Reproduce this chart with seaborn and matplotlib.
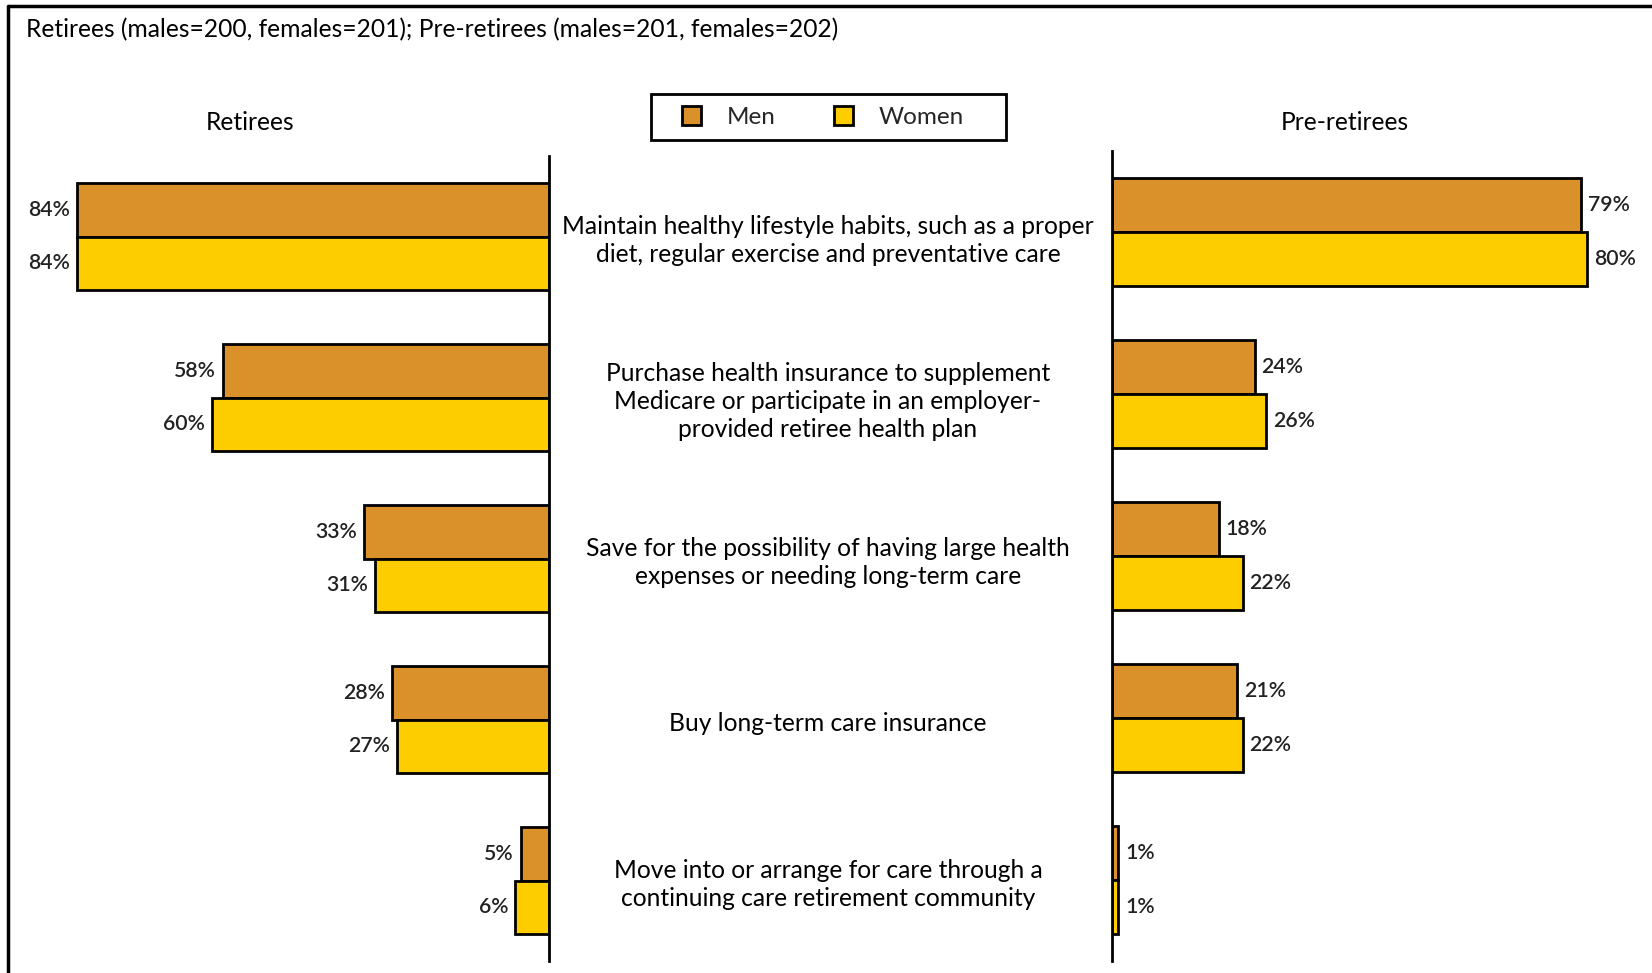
import matplotlib
matplotlib.use("Agg")
import matplotlib.pyplot as plt
import matplotlib.transforms as mtransforms
from matplotlib.patches import Patch, Rectangle
from matplotlib.lines import Line2D
import seaborn as sns
import pandas as pd

categories = [
    "Maintain healthy lifestyle habits, such as a proper\ndiet, regular exercise and preventative care",
    "Purchase health insurance to supplement\nMedicare or participate in an employer-\nprovided retiree health plan",
    "Save for the possibility of having large health\nexpenses or needing long-term care",
    "Buy long-term care insurance",
    "Move into or arrange for care through a\ncontinuing care retirement community",
]
retirees_men = [84, 58, 33, 28, 5]
retirees_women = [84, 60, 31, 27, 6]
preretirees_men = [79, 24, 18, 21, 1]
preretirees_women = [80, 26, 22, 22, 1]
genders = ["Men", "Women"]
colors = {"Men": "#DB912A", "Women": "#FDCD00"}

sns.set_theme(style="white")
FONT = ["Lato", "DejaVu Sans"]
plt.rcParams["font.family"] = FONT

W, H = 1652, 973
fig = plt.figure(figsize=(W / 100, H / 100), dpi=100)


def ax_rect(x0, y0, x1, y1):
    return [x0 / W, 1 - y1 / H, (x1 - x0) / W, (y1 - y0) / H]


def make_df(men, women):
    rows = []
    for c, m, w in zip(categories, men, women):
        rows.append({"cat": c, "gender": "Men", "val": m})
        rows.append({"cat": c, "gender": "Women", "val": w})
    return pd.DataFrame(rows)


axL = fig.add_axes(ax_rect(20, 156, 549, 961))
axR = fig.add_axes(ax_rect(1112, 151, 1640, 961))

for ax, men, women, side in [(axL, retirees_men, retirees_women, -1),
                             (axR, preretirees_men, preretirees_women, 1)]:
    df = make_df(men, women)
    sns.barplot(data=df, y="cat", x="val", hue="gender", hue_order=genders, order=categories,
                orient="h", palette=colors, width=0.67, edgecolor="black", linewidth=2,
                saturation=1, legend=False, ax=ax)
    for cont, vals in zip(ax.containers, [men, women]):
        for rect, v in zip(cont, vals):
            yc = rect.get_y() + rect.get_height() / 2
            ax.annotate(f"{v}%", xy=(rect.get_width(), yc), xytext=(5 * side, 0),
                        textcoords="offset points", ha="right" if side < 0 else "left",
                        va="center", fontsize=15.3, fontweight="semibold", color="#222222")
    ax.set_xlabel("")
    ax.set_ylabel("")
    ax.set_xticks([])
    ax.set_yticks([])
    ax.set_ylim(4.5, -0.5)
    for s in ax.spines.values():
        s.set_visible(False)

axL.set_xlim(529 / 5.62, 0)
axR.set_xlim(0, 528 / 5.94)
axL.spines["right"].set_visible(True)
axL.spines["right"].set_color("black")
axL.spines["right"].set_linewidth(2)
axR.spines["left"].set_visible(True)
axR.spines["left"].set_color("black")
axR.spines["left"].set_linewidth(2)

trans = mtransforms.blended_transform_factory(fig.transFigure, axL.transData)
trans = trans + mtransforms.ScaledTranslation(0, -4 / 100, fig.dpi_scale_trans)
for i, c in enumerate(categories):
    fig.text(828 / W, i, c, transform=trans, ha="center", va="center", fontsize=17.7,
             linespacing=1.28, color="black")

fig.text(26 / W, 1 - 30 / H, "Retirees (males=200, females=201); Pre-retirees (males=201, females=202)",
         ha="left", va="center", fontsize=17.7, color="black")
fig.text(250 / W, 1 - 122 / H, "Retirees", ha="center", va="center", fontsize=17.7, color="black")
fig.text(1345 / W, 1 - 122 / H, "Pre-retirees", ha="center", va="center", fontsize=17.7, color="black")

handles = [Patch(facecolor=colors[g], edgecolor="black", linewidth=2, label=g) for g in genders]
leg = fig.legend(handles=handles, loc="center", bbox_to_anchor=(823 / W, 1 - 117 / H), ncol=2,
                 frameon=False, fontsize=17.5, handlelength=0.8, handleheight=0.8,
                 handletextpad=1.05, columnspacing=2.4, borderpad=0.3, borderaxespad=0)
# legend box
fig.add_artist(Rectangle((651 / W, 1 - 140 / H), (1006 - 651) / W, (140 - 94) / H,
                         transform=fig.transFigure, facecolor="none", edgecolor="black", lw=2))

# outer frame (top and left)
fig.add_artist(Line2D([8 / W, 1], [1 - 6 / H, 1 - 6 / H], transform=fig.transFigure, color="black", lw=2.5))
fig.add_artist(Line2D([8 / W, 8 / W], [0, 1 - 6 / H], transform=fig.transFigure, color="black", lw=2.5))

fig.savefig("out.png", dpi=100, facecolor="white")
